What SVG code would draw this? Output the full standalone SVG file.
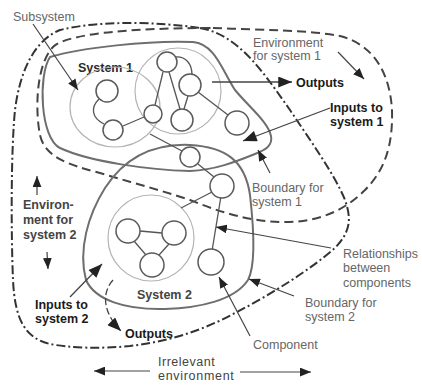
<svg xmlns="http://www.w3.org/2000/svg" width="422" height="385" viewBox="0 0 422 385">
<defs>
<style>
.bd{fill:none;stroke:#6e6e6e;stroke-width:2}
.sub{fill:none;stroke:#b4b4b4;stroke-width:1.2}
.node{fill:#fff;stroke:#5a5a5a;stroke-width:1.5}
.rel{fill:none;stroke:#555;stroke-width:1.3}
.env{fill:none;stroke:#444;stroke-width:2;stroke-dasharray:9 5}
.irr{fill:none;stroke:#333;stroke-width:2;stroke-dasharray:9 3 2 3}
.ptr{fill:none;stroke:#444;stroke-width:1.2;marker-end:url(#ah)}
.big{fill:none;stroke:#444;stroke-width:1.3;marker-end:url(#bh)}
text{font-family:"Liberation Sans",Arial,sans-serif;font-size:12.5px}
.lb{fill:#666}
.bl{fill:#1a1a1a;font-weight:bold}
.bg{fill:#444;font-weight:bold}
</style>
<marker id="ah" viewBox="0 0 10 8" refX="10" refY="4" markerWidth="11" markerHeight="9" markerUnits="userSpaceOnUse" orient="auto"><path d="M0,0 L10,4 L0,8 z" fill="#222"/></marker>
<marker id="bh" viewBox="0 0 10 8" refX="10" refY="4" markerWidth="15" markerHeight="11" markerUnits="userSpaceOnUse" orient="auto"><path d="M0,0 L10,4 L0,8 z" fill="#222"/></marker>
</defs>
<rect width="422" height="385" fill="#fff"/>

<g id="irrelevant-environment">
<path class="irr" d="M200,28 C240,35 265,75 290,110 C310,140 335,175 345,200 C352,220 350,232 335,248 C310,270 270,295 235,313 C200,332 165,342 130,346 C100,349 70,348 50,344 C25,338 15,320 13,280 C11,230 11,150 15,110 C20,70 35,40 60,30 C100,20 160,22 200,28 Z"/>
<text class="lb" x="158" y="366" style="fill:#444;letter-spacing:0.5px" font-size="13">Irrelevant</text>
<text class="lb" x="158" y="380" style="fill:#444;letter-spacing:0.7px" font-size="13">environment</text>
</g>

<g id="environment-system1">
<path class="env" d="M213,28 C260,30 310,30 340,36 C375,45 390,75 392,110 C393,145 385,170 365,190 C345,210 320,222 285,222 C250,222 220,212 190,200 C160,190 130,182 100,173 C70,165 45,158 40,135 C35,110 36,65 53,47 C65,35 120,28 213,28 Z"/>
<text class="lb" x="253" y="47">Environment</text>
<text class="lb" x="253" y="60">for system 1</text>
</g>

<g id="environment-system2">
<text class="bg" x="23" y="209">Environ-</text>
<text class="bg" x="23" y="224">ment for</text>
<text class="bg" x="23" y="239">system 2</text>
</g>

<g id="system1">
<path class="bd" d="M50,57 C80,48 150,40 193,42 C215,44 222,70 235,90 C250,108 268,122 271,136 C273,146 265,150 255,154 C235,162 215,170 190,171 C150,170 90,162 60,148 C40,138 38,75 50,57 Z"/>
<text class="bl" x="78" y="72" font-size="13" style="fill:#2a2a2a">System 1</text>
<text class="lb" x="252" y="192">Boundary for</text>
<text class="lb" x="252" y="206">system 1</text>
</g>

<g id="system2">
<path class="bd" d="M190,145 C225,147 245,160 250,195 C254,230 256,265 248,280 C235,300 200,308 165,309 C125,310 95,300 86,280 C78,250 88,215 105,188 C120,165 145,143 190,145 Z"/>
<text class="bg" x="137" y="299" font-size="13">System 2</text>
<text class="lb" x="305" y="307">Boundary for</text>
<text class="lb" x="305" y="321">system 2</text>
</g>

<g id="subsystem-a"><ellipse class="sub" cx="115" cy="107" rx="45" ry="40"/></g>
<g id="subsystem-b"><circle class="sub" cx="178" cy="91" r="43"/></g>
<g id="subsystem-c"><circle class="sub" cx="151" cy="238" r="43"/></g>

<g id="connectors">
<path class="rel" d="M99,99 C90,108 92,118 104,124"/>
<line class="rel" x1="123" y1="126" x2="144" y2="117"/>
<line class="rel" x1="163" y1="72" x2="155" y2="105"/>
<line class="rel" x1="169" y1="72" x2="180" y2="109"/>
<path class="rel" d="M175,57 C186,56 192,64 192,75"/>
<line class="rel" x1="188" y1="96" x2="184" y2="109"/>
<line class="rel" x1="198" y1="92" x2="228" y2="115"/>
<line class="rel" x1="150" y1="134" x2="182" y2="151"/>
<line class="rel" x1="198" y1="164" x2="214" y2="177"/>
<line class="rel" x1="212" y1="192" x2="181" y2="208"/>
<line class="rel" x1="221" y1="196" x2="212" y2="251"/>
<line class="rel" x1="140" y1="231" x2="162" y2="233"/>
<line class="rel" x1="134" y1="241" x2="146" y2="255"/>
<line class="rel" x1="169" y1="244" x2="159" y2="255"/>

<line class="ptr" x1="33" y1="24" x2="78" y2="90"/>
<line class="ptr" x1="338" y1="52" x2="364" y2="79"/>
<line class="big" x1="212" y1="82" x2="292" y2="82"/>
<line class="big" x1="330" y1="108" x2="243" y2="141"/>
<line class="ptr" x1="270" y1="173" x2="258" y2="150"/>
<line class="ptr" x1="37" y1="195" x2="37" y2="176"/>
<line class="ptr" x1="47" y1="252" x2="48" y2="269"/>
<line class="ptr" x1="331" y1="248" x2="216" y2="227"/>
<line class="ptr" x1="294" y1="296" x2="249" y2="279"/>
<line class="ptr" x1="250" y1="336" x2="219" y2="277"/>
<line class="big" x1="70" y1="297" x2="102" y2="264"/>
<path class="big" d="M113,280 C102,292 102,312 121,331" stroke-dasharray="7 3"/>
<line class="ptr" x1="150" y1="371" x2="94" y2="371"/>
<line class="ptr" x1="240" y1="372" x2="311" y2="372"/>
</g>

<g id="n1"><circle class="node" cx="107" cy="91" r="11"/></g>
<g id="n2"><circle class="node" cx="113" cy="130" r="10"/></g>
<g id="n3"><circle class="node" cx="153" cy="114" r="9"/></g>
<g id="n4"><circle class="node" cx="167" cy="62" r="10"/></g>
<g id="n5"><circle class="node" cx="190" cy="85" r="11"/></g>
<g id="n6"><circle class="node" cx="182" cy="120" r="11"/></g>
<g id="n7"><circle class="node" cx="237" cy="123" r="12"/></g>
<g id="n8"><circle class="node" cx="190" cy="157" r="10"/></g>
<g id="n9"><circle class="node" cx="222" cy="186" r="12"/></g>
<g id="n10"><circle class="node" cx="128" cy="231" r="12"/></g>
<g id="n11"><circle class="node" cx="174" cy="233" r="12"/></g>
<g id="n12"><circle class="node" cx="152" cy="265" r="12"/></g>
<g id="n13"><circle class="node" cx="211" cy="262" r="13"/></g>

<g id="labels">
<text class="lb" x="13" y="21">Subsystem</text>
<text class="bl" x="296" y="87">Outputs</text>
<text class="bl" x="330" y="112">Inputs to</text>
<text class="bl" x="330" y="126">system 1</text>
<text class="lb" x="343" y="258">Relationships</text>
<text class="lb" x="343" y="272">between</text>
<text class="lb" x="343" y="287">components</text>
<text class="bl" x="35" y="309">Inputs to</text>
<text class="bl" x="35" y="323">system 2</text>
<text class="bl" x="125" y="338">Outputs</text>
<text class="lb" x="253" y="349">Component</text>
</g>
</svg>
